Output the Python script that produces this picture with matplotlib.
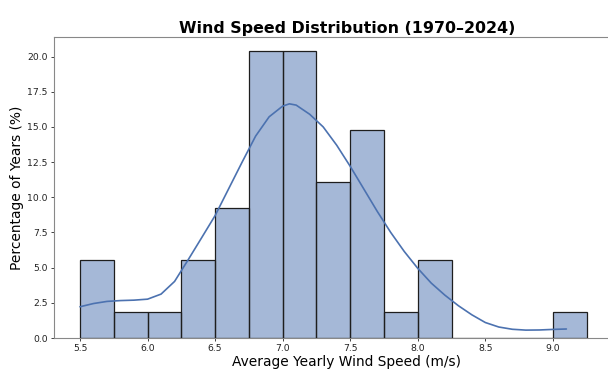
import matplotlib
matplotlib.use("Agg")
import matplotlib.pyplot as plt
import numpy as np

bin_edges = [5.5, 5.75, 6.0, 6.25, 6.5, 6.75, 7.0, 7.25, 7.5, 7.75, 8.0, 8.25, 8.5, 8.75, 9.0, 9.25]
percent_years = [5.56, 1.85, 1.85, 5.56, 9.26, 20.37, 20.37, 11.11, 14.81, 1.85, 5.56, 0.0, 0.0, 0.0, 1.85]

kde_x = [5.50, 5.60, 5.70, 5.80, 5.90, 6.00, 6.10, 6.20, 6.30, 6.40, 6.50, 6.60, 6.70, 6.80, 6.90,
         7.00, 7.05, 7.10, 7.20, 7.30, 7.40, 7.50, 7.60, 7.70, 7.80, 7.90, 8.00, 8.10, 8.20, 8.30,
         8.40, 8.50, 8.60, 8.70, 8.80, 8.90, 9.00, 9.10]
kde_y = [2.22, 2.45, 2.60, 2.66, 2.69, 2.76, 3.12, 4.02, 5.55, 7.12, 8.70, 10.60, 12.50, 14.35, 15.72,
         16.48, 16.64, 16.55, 15.90, 15.00, 13.70, 12.20, 10.60, 9.00, 7.50, 6.15, 4.95, 3.90, 3.05, 2.30,
         1.65, 1.10, 0.78, 0.62, 0.56, 0.57, 0.61, 0.64]

title = "Wind Speed Distribution (1970\u20132024)"
xlabel = "Average Yearly Wind Speed (m/s)"
ylabel = "Percentage of Years (%)"
xticks = [5.5, 6.0, 6.5, 7.0, 7.5, 8.0, 8.5, 9.0]
yticks = [0.0, 2.5, 5.0, 7.5, 10.0, 12.5, 15.0, 17.5, 20.0]

W, H = 608, 369
fig = plt.figure(figsize=(W / 100, H / 100), dpi=100)
ax = fig.add_axes([54 / W, 31 / H, 586 / W, 301 / H])

edges = np.array(bin_edges)
ax.bar(edges[:-1], percent_years, width=np.diff(edges), align="edge",
       color="#4c72b0", alpha=0.5, edgecolor="none", zorder=2)
ax.bar(edges[:-1], percent_years, width=np.diff(edges), align="edge",
       fill=False, edgecolor="#1e1e1e", linewidth=0.9, zorder=3)
ax.plot(kde_x, kde_y, color="#4c72b0", linewidth=1.2, zorder=4,
        solid_joinstyle="round", solid_capstyle="round")

ax.set_xlim(5.3075, 9.645)
ax.set_ylim(0, 21.39)
ax.set_xticks(xticks)
ax.set_xticklabels([f"{t:.1f}" for t in xticks])
ax.set_yticks(yticks)
ax.set_yticklabels([f"{t:.1f}" for t in yticks])
ax.tick_params(labelsize=6.7, length=2.5, width=0.6, pad=2, colors="#222222")

ax.set_title(title, fontsize=11.4, fontweight="bold", pad=3)
ax.set_xlabel(xlabel, fontsize=9.9, labelpad=1.5)
ax.set_ylabel(ylabel, fontsize=9.9, labelpad=2.5)
for s in ax.spines.values():
    s.set_color("#888888")
    s.set_linewidth(0.8)

fig.savefig("out.png", dpi=100)
